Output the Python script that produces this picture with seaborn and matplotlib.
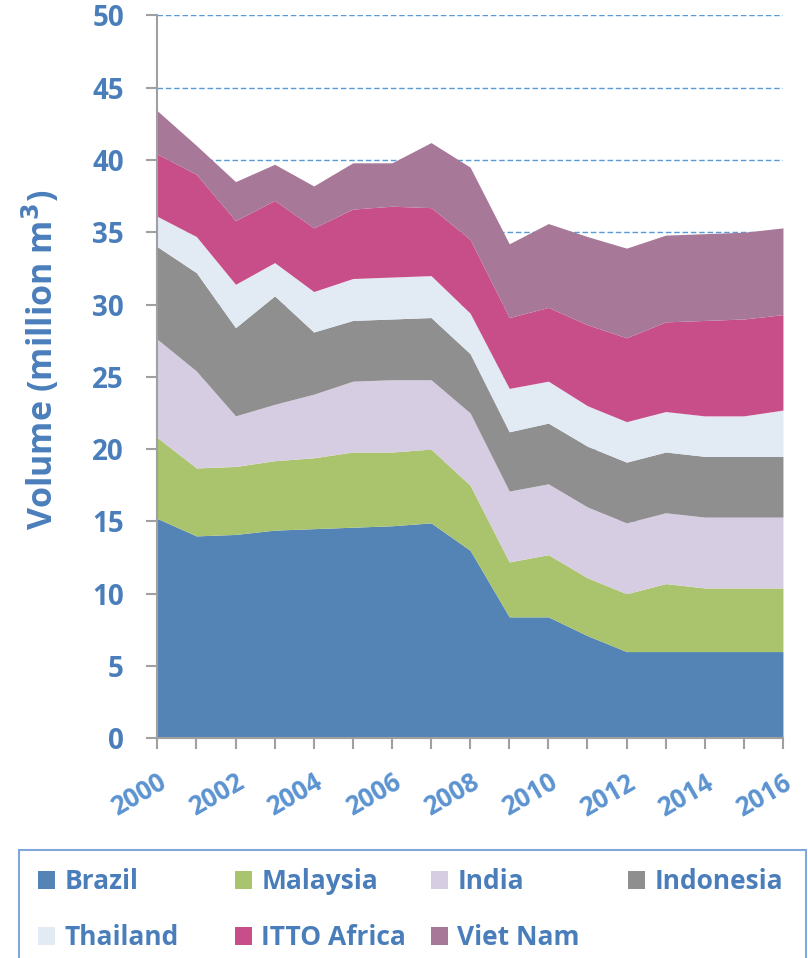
import pandas as pd
import seaborn as sns
import matplotlib.pyplot as plt
from matplotlib.patches import Patch, Rectangle

years = list(range(2000, 2017))
countries = ['Brazil', 'Malaysia', 'India', 'Indonesia', 'Thailand', 'ITTO Africa', 'Viet Nam']

brazil = [15.2, 14.0, 14.1, 14.4, 14.5, 14.6, 14.7, 14.9, 13.0, 8.4, 8.4, 7.1, 6.0, 6.0, 6.0, 6.0, 6.0]
malaysia = [5.6, 4.7, 4.7, 4.8, 4.9, 5.2, 5.1, 5.1, 4.5, 3.8, 4.3, 4.0, 4.0, 4.7, 4.4, 4.4, 4.4]
india = [6.8, 6.7, 3.5, 3.9, 4.4, 4.9, 5.0, 4.8, 5.0, 4.9, 4.9, 4.9, 4.9, 4.9, 4.9, 4.9, 4.9]
indonesia = [6.4, 6.8, 6.1, 7.5, 4.3, 4.2, 4.2, 4.3, 4.1, 4.1, 4.2, 4.2, 4.2, 4.2, 4.2, 4.2, 4.2]
thailand = [2.1, 2.5, 3.0, 2.3, 2.8, 2.9, 2.9, 2.9, 2.8, 3.0, 2.9, 2.8, 2.8, 2.8, 2.8, 2.8, 3.2]
itto_africa = [4.3, 4.3, 4.4, 4.3, 4.4, 4.8, 4.9, 4.7, 5.1, 4.9, 5.1, 5.6, 5.8, 6.2, 6.6, 6.7, 6.6]
viet_nam = [3.0, 2.0, 2.7, 2.5, 2.9, 3.2, 3.0, 4.5, 5.0, 5.1, 5.8, 6.1, 6.2, 6.0, 6.0, 6.0, 6.0]

colors = {'Brazil': '#5484b6', 'Malaysia': '#a9c46c', 'India': '#d7cde2',
          'Indonesia': '#8f8f8f', 'Thailand': '#e2eaf4', 'ITTO Africa': '#c84e8a',
          'Viet Nam': '#a87898'}

series = [brazil, malaysia, india, indonesia, thailand, itto_africa, viet_nam]
df = pd.DataFrame([(y, c, v) for c, vals in zip(countries, series) for y, v in zip(years, vals)],
                  columns=['year', 'country', 'volume'])

sns.set_theme(style='white')
plt.rcParams['font.family'] = ['Open Sans', 'DejaVu Sans']
blue = '#4a7ebb'
light_blue = '#5b93d0'

fig = plt.figure(figsize=(8.08, 9.58), dpi=100)
ax = fig.add_axes([0.1947, 0.2293, 0.7743, 0.7547])

# seaborn stacks the first hue level on top, so reverse the order
sns.histplot(data=df, x='year', weights='volume', hue='country', hue_order=countries[::-1],
             multiple='stack', element='poly', discrete=True, palette=colors,
             alpha=1, linewidth=0, legend=False, ax=ax)

ax.set_xlim(2000, 2016)
ax.set_ylim(0, 50)
ax.set_yticks(range(0, 51, 5))
ax.set_xticks(years)
ax.set_xticklabels([str(y) if y % 2 == 0 else '' for y in years], rotation=30,
                   ha='right', rotation_mode='anchor', fontsize=18.5, fontweight='bold', color=light_blue)
ax.set_yticklabels([str(v) for v in range(0, 51, 5)], fontsize=20, fontweight='bold', color=blue)
ax.set_xlabel('')
ax.set_ylabel('')
ax.set_axisbelow(True)
ax.yaxis.grid(True, linestyle=(0, (4, 2)), color='#5b9bd5', linewidth=1)
ax.xaxis.grid(False)
for s in ['top', 'right']:
    ax.spines[s].set_visible(False)
for s in ['left', 'bottom']:
    ax.spines[s].set_color('#a0a0a0')
    ax.spines[s].set_linewidth(1.5)
ax.tick_params(axis='both', which='both', direction='out', length=8, width=1.5, color='#a0a0a0',
               left=True, bottom=True)
ax.tick_params(axis='y', pad=16)
ax.tick_params(axis='x', pad=14)

fig.text(0.05, 0.624, 'Volume (million m$^\\mathbf{3}$)', rotation=90, ha='center', va='center',
         fontsize=24.5, fontweight='bold', color=blue)

# legend: frame box plus one two-row legend per column, on a fixed grid
fig.patches.append(Rectangle((19 / 808, -0.01), 787 / 808, 0.01 + 1 - 850 / 958,
                             transform=fig.transFigure, facecolor='none',
                             edgecolor='#7fa7d9', linewidth=1.5))
columns = [['Brazil', 'Thailand'], ['Malaysia', 'ITTO Africa'], ['India', 'Viet Nam'], ['Indonesia']]
col_x = [38, 235, 431, 628]
for names, x in zip(columns, col_x):
    handles = [Patch(facecolor=colors[c], edgecolor='none', label=c) for c in names]
    leg = fig.legend(handles=handles, loc='upper left', bbox_to_anchor=(x / 808, 1 - 868 / 958),
                     fontsize=19, frameon=False, handlelength=0.65, handleheight=0.65,
                     handletextpad=0.35, borderpad=0, labelspacing=1.1, borderaxespad=0)
    for t in leg.get_texts():
        t.set_color(blue)
        t.set_fontweight('bold')

fig.savefig('out.png', dpi=100)
